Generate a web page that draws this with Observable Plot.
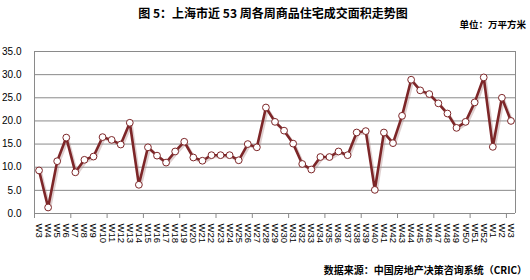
<!DOCTYPE html>
<html>
<head>
<meta charset="utf-8">
<script src="https://cdn.jsdelivr.net/npm/d3@7"></script>
<script src="https://cdn.jsdelivr.net/npm/@observablehq/plot@0.6"></script>
<style>
  html, body { margin: 0; padding: 0; background: #fff; }
  #wrap { position: relative; width: 530px; height: 280px; overflow: hidden; }
  .t { position: absolute; font-family: "Noto Sans CJK SC", sans-serif; font-weight: bold; color: #000; white-space: nowrap; line-height: 1; }
  #title { left: 0; width: 546px; text-align: center; top: 7px; font-size: 12px; }
  #unit { right: 4px; top: 20px; font-size: 9.5px; }
  #source { right: 3px; top: 265px; font-size: 10px; }
</style>
</head>
<body>
<div id="wrap">
  <div id="title" class="t">图 5：上海市近 53 周各周商品住宅成交面积走势图</div>
  <div id="unit" class="t">单位：万平方米</div>
  <div id="source" class="t">数据来源：中国房地产决策咨询系统（CRIC）</div>
</div>
<script>
const weeks = ["W3","W4","W5","W6","W7","W8","W9","W10","W11","W12","W13","W14","W15","W16","W17","W18","W19","W20","W21","W22","W23","W24","W25","W26","W27","W28","W29","W30","W31","W32","W33","W34","W35","W36","W37","W38","W39","W40","W41","W42","W43","W44","W45","W46","W47","W48","W49","W50","W51","W52","W1","W2","W3"];
const area = [9.3,1.3,11.3,16.4,8.9,11.6,12.3,16.5,15.9,14.9,19.6,6.2,14.3,12.5,11.0,13.4,15.5,12.1,11.4,12.6,12.6,12.6,11.5,15.0,14.3,22.9,19.8,17.9,15.1,10.7,9.5,12.2,12.2,13.4,12.6,17.5,17.8,5.1,17.5,15.2,21.1,28.9,26.6,25.8,23.8,21.6,18.5,19.8,24.0,29.4,14.4,25.0,20.0];
const yTicks = [0,5,10,15,20,25,30,35];

const data = weeks.map((w, i) => ({i, w, v: area[i]}));
const n = weeks.length;
const boundaries = d3.range(-0.5, n, 4);
const grid = "#8a8a8a";

const chart = Plot.plot({
  width: 530,
  height: 280,
  marginLeft: 34,
  marginRight: 15,
  marginTop: 51,
  marginBottom: 67,
  style: {fontFamily: "'Liberation Sans', Arial, sans-serif", fontSize: "10px", background: "transparent", overflow: "visible"},
  x: {type: "linear", domain: [-0.5, n - 0.5], axis: null},
  y: {domain: [0, 35], axis: null},
  marks: [
    Plot.ruleY(yTicks, {stroke: grid, strokeWidth: 1}),
    Plot.ruleX([-0.5, n - 0.5], {stroke: grid, strokeWidth: 1}),
    Plot.axisY({ticks: yTicks, tickSize: 0, tickPadding: 13, tickFormat: d3.format(".1f"), fill: "#000", fontSize: 10, label: null}),
    Plot.axisX({ticks: boundaries, tickSize: 5, tickFormat: () => "", stroke: grid, label: null}),
    Plot.text(data, {x: "i", frameAnchor: "bottom", dy: 10, text: "w", rotate: 90, textAnchor: "start", fontSize: 9.5, fill: "#000", lineAnchor: "middle"}),
    Plot.line(data, {x: "i", y: "v", stroke: "#b08a8a", strokeWidth: 3, strokeOpacity: 0.4, dx: 1.5, dy: 1.5}),
    Plot.line(data, {x: "i", y: "v", stroke: "#7d2628", strokeWidth: 2.6}),
    Plot.dot(data, {x: "i", y: "v", r: 3.4, fill: "#fff", stroke: "#7d2628", strokeWidth: 1})
  ]
});
chart.style.position = "absolute";
chart.style.left = "0";
chart.style.top = "0";
document.getElementById("wrap").appendChild(chart);
</script>
</body>
</html>
